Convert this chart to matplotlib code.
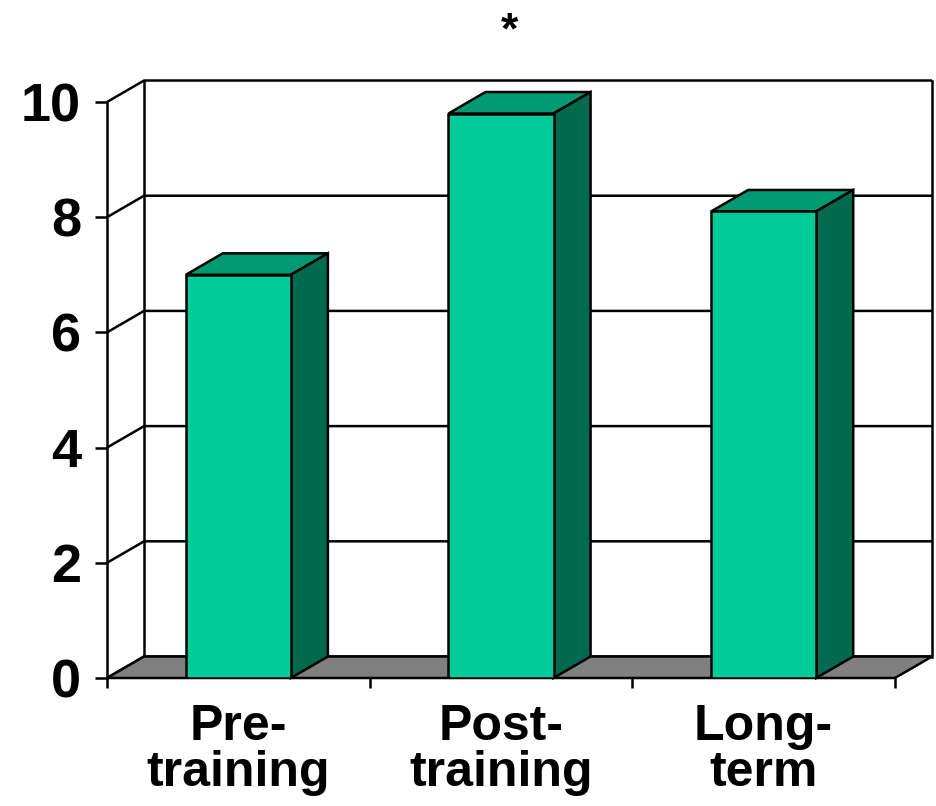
import matplotlib
matplotlib.use('Agg')
import matplotlib.pyplot as plt
from matplotlib.patches import Polygon

categories = ['Pre-\ntraining', 'Post-\ntraining', 'Long-\nterm']
values = [7.0, 9.8, 8.1]
y_ticks = [0, 2, 4, 6, 8, 10]
star_text = '*'
star_category = 1

FRONT = '#00CC99'
TOP = '#009A72'
SIDE = '#006A4F'
FLOOR = '#808080'

# depth of the fake 3d box, in data units (x: categories, y: value)
DX, DY = 0.141, 0.373
BAR_W = 0.40
LW = 1.8

plt.rcParams['font.family'] = ['Liberation Sans', 'DejaVu Sans']
plt.rcParams['font.weight'] = 'bold'

fig = plt.figure(figsize=(9.36, 8.06), dpi=100)
ax = fig.add_axes([107 / 936, 128 / 806, 788 / 936, 576 / 806])
n = len(categories)
ax.set_xlim(0, n)
ax.set_ylim(0, 10)

for s in ['top', 'right', 'bottom']:
    ax.spines[s].set_visible(False)
ax.spines['left'].set_linewidth(LW)
ax.spines['left'].set_zorder(6)

# walls: left-wall diagonals and back-wall gridlines
for y in y_ticks:
    ax.plot([0, DX, n + DX], [y, y + DY, y + DY], color='black', lw=LW,
            clip_on=False, zorder=1, solid_capstyle='butt')
for x in [DX, n + DX]:
    ax.plot([x, x], [DY, 10 + DY], color='black', lw=LW, clip_on=False, zorder=1)

# floor
floor = Polygon([(0, 0), (n, 0), (n + DX, DY), (DX, DY)], closed=True,
                facecolor=FLOOR, edgecolor='black', lw=LW, clip_on=False, zorder=2)
ax.add_patch(floor)

# bars: front face from ax.bar, top and side faces as polygons
centers = [i + 0.5 for i in range(n)]
ax.bar(centers, values, width=BAR_W, color=FRONT, edgecolor='black',
       linewidth=LW, zorder=5)
for c, v in zip(centers, values):
    x0, x1 = c - BAR_W / 2, c + BAR_W / 2
    top = Polygon([(x0, v), (x1, v), (x1 + DX, v + DY), (x0 + DX, v + DY)],
                  closed=True, facecolor=TOP, edgecolor='black', lw=LW,
                  clip_on=False, zorder=4)
    side = Polygon([(x1, 0), (x1, v), (x1 + DX, v + DY), (x1 + DX, DY)],
                   closed=True, facecolor=SIDE, edgecolor='black', lw=LW,
                   clip_on=False, zorder=4)
    ax.add_patch(top)
    ax.add_patch(side)

# axis ticks
ax.set_yticks(y_ticks)
ax.set_yticklabels([str(t) for t in y_ticks], fontsize=39, fontweight='bold')
ax.tick_params(axis='y', direction='out', length=8.6, width=LW, pad=10)

ax.set_xticks(range(n + 1))
ax.set_xticklabels([])
ax.tick_params(axis='x', which='major', direction='out', length=7.5, width=LW)
ax.set_xticks(centers, minor=True)
ax.set_xticklabels(categories, minor=True, fontsize=36, fontweight='bold',
                   linespacing=1.0)
ax.tick_params(axis='x', which='minor', length=0, pad=19)

ax.text(centers[star_category] + 0.034, 11.22, star_text, ha='center', va='center',
        fontsize=32, fontweight='bold', clip_on=False)

fig.savefig('out.png', dpi=100)
